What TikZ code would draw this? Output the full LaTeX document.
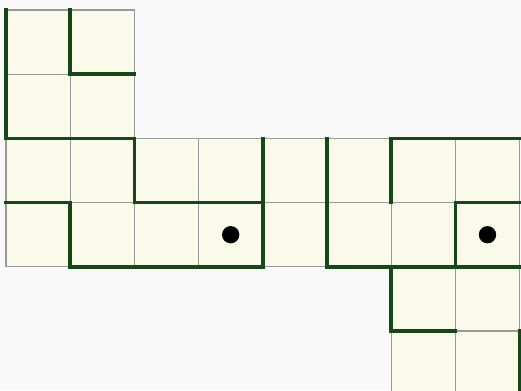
\documentclass[tikz,border=0pt]{standalone}
\usetikzlibrary{positioning}
\definecolor{cream}{RGB}{250,250,234}
\definecolor{fencegreen}{RGB}{22,72,22}
\definecolor{paper}{RGB}{249,249,249}
\tikzset{
  cell/.style={
    fill = cream,
    draw = gray!80,
    line width = 0.5pt
  },
  fence/.style={
    draw = fencegreen,
    line width = 1.6pt,
    line cap = rect
  },
  centre/.style={
    inner sep = 0cm,
    minimum size = 0.27cm,
    shape = circle,
    fill = black
  },
}

\begin{document}
\begin{tikzpicture}
\useasboundingbox[fill=paper] (-0.093,0.156) rectangle (8.022,-5.92);
\clip (-0.093,0.156) rectangle (8.022,-5.92);
% cells
		  \foreach \x/\y in {0/0,1/0,0/1,1/1,6/4,7/4,6/5,7/5}{
		    \draw[cell] (\x,-\y) rectangle ++(1,-1); }
		  \foreach \x in {0,...,7}{
		    \foreach \y in {2,3}{
		     \draw[cell] (\x,-\y) rectangle ++(1,-1); }}
% region borders
\draw[fence] (0,0) -- (0,-2) -- (2,-2) -- (2,-3) -- (4,-3);
\draw[fence] (1,0) -- (1,-1) -- (2,-1);
\draw[fence] (4,-2) -- (4,-4) -- (1,-4) -- (1,-3) -- (0,-3);
\draw[fence] (5,-2) -- (5,-4) -- (8,-4);
\draw[fence] (6,-3) -- (6,-2) -- (8,-2);
\draw[fence] (8,-3) -- (7,-3) -- (7,-4);
\draw[fence] (6,-4) -- (6,-5) -- (7,-5);
\draw[fence] (8,-5) -- (8,-6);
% centres
\node[centre] (dotA) at (3.5,-3.5) {};
\node[centre] (dotB) at (7.5,-3.5) {};
\end{tikzpicture}
\end{document}
